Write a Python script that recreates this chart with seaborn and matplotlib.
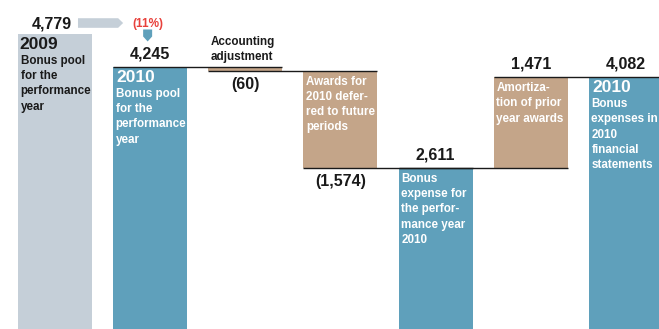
import matplotlib
matplotlib.use("Agg")
import matplotlib.pyplot as plt
from matplotlib.patches import Polygon
from matplotlib.transforms import IdentityTransform
import pandas as pd
import seaborn as sns

# Bonus pool bridge from the 2010 performance year to the 2010 financial statements
steps = ["2009 pool", "2010 pool", "Accounting adjustment", "Deferred awards",
         "Expense for 2010", "Amortization", "2010 expenses"]
amounts = [4779, 4245, -60, -1574, 2611, 1471, 4082]
kinds = ["prior", "total", "change", "change", "total", "change", "total"]
headings = ["2009", "2010", "", "", "", "", "2010"]
notes = [
    "Bonus pool\nfor the\nperformance\nyear",
    "Bonus pool\nfor the\nperformance\nyear",
    "Accounting\nadjustment",
    "Awards for\n2010 defer-\nred to future\nperiods",
    "Bonus\nexpense for\nthe perfor-\nmance year\n2010",
    "Amortiza-\ntion of prior\nyear awards",
    "Bonus\nexpenses in\n2010\nfinancial\nstatements",
]

GREY, BLUE, TAN = "#c5cfd8", "#5fa0bb", "#c4a589"
RED, INK = "#e8413c", "#1a1a1a"
palette = {"prior": GREY, "total": BLUE, "change": TAN}
BAR_W = 0.777
NOTE_SIZE = 8.4
NOTE_SPACING = 1.36

# Running totals: each change bar floats between the level before and after it
bottoms, heights, levels = [], [], []
running = 0
for amt, kind in zip(amounts, kinds):
    if kind == "change":
        new = running + amt
        bottoms.append(min(running, new))
        heights.append(abs(amt))
        running = new
    else:
        bottoms.append(0)
        heights.append(amt)
        if kind == "total":
            running = amt
    levels.append(running)

df = pd.DataFrame(dict(step=steps, amount=amounts, kind=kinds,
                       bottom=bottoms, height=heights, level=levels))

sns.set_theme(style="white")
plt.rcParams["font.family"] = ["Liberation Sans", "DejaVu Sans"]

fig = plt.figure(figsize=(6.59, 3.29), dpi=100)
ax = fig.add_axes([0, 0, 1, 1])

for kind, color in palette.items():
    sub = df[df["kind"] == kind]
    sns.barplot(data=sub, x="step", y="height", order=steps, color=color,
                saturation=1, width=BAR_W, linewidth=0, errorbar=None,
                bottom=sub["bottom"].to_numpy(), ax=ax)

ax.set_xlim(-0.578, 6.348)
ax.set_ylim(0, 5330)
ax.axis("off")

# Step connectors between consecutive bars
for i in range(1, len(steps) - 1):
    if kinds[i] == "prior":
        continue
    ax.hlines(levels[i], i - BAR_W / 2, i + 1 + BAR_W / 2,
              color=INK, lw=1.0, zorder=5)


def fmt(v):
    return f"({abs(v):,})" if v < 0 else f"{v:,}"


def px(x, y):
    return ax.transData.transform((x, y))


for i, row in df.iterrows():
    left = i - BAR_W / 2
    top = row.bottom + row.height
    bottom = row.bottom
    text_color = INK if row.kind == "prior" else "white"
    thin = row.height < 300

    # value label
    if row.kind == "prior":
        ax.annotate(fmt(row.amount), (i, top), xytext=(-3, 5.7),
                    textcoords="offset pixels", ha="center", va="baseline",
                    fontsize=11.5, fontweight="bold", color=INK)
    elif row.amount < 0:
        ax.annotate(fmt(row.amount), (i, bottom), xytext=(0, -6),
                    textcoords="offset pixels", ha="center", va="top",
                    fontsize=11.5, fontweight="bold", color=INK)
    else:
        ax.annotate(fmt(row.amount), (i, top), xytext=(0, 8.5),
                    textcoords="offset pixels", ha="center", va="baseline",
                    fontsize=11.5, fontweight="bold", color=INK)

    # description
    if thin:
        ax.annotate(notes[i], (left, top), xytext=(2, 4),
                    textcoords="offset pixels", ha="left", va="bottom",
                    fontsize=NOTE_SIZE, fontweight="bold", color=INK,
                    linespacing=NOTE_SPACING)
        continue
    note_dy = -5
    if headings[i]:
        ax.annotate(headings[i], (left, top),
                    xytext=(1.5 if row.kind == "prior" else 3, -3),
                    textcoords="offset pixels", ha="left", va="top",
                    fontsize=12.5, fontweight="bold", color=text_color, zorder=6)
        note_dy = -21
    ax.annotate(notes[i], (left, top), xytext=(2.5, note_dy),
                textcoords="offset pixels", ha="left", va="top",
                fontsize=NOTE_SIZE, fontweight="bold", color=text_color,
                linespacing=NOTE_SPACING, zorder=6)

# Year-on-year change between the two bonus pools
prev, cur = amounts[0], amounts[1]
change = (cur - prev) / prev
x0, y0 = px(0, prev)
x1, y1 = px(1, cur)
row_y = y0 + 11
arrow_l, arrow_r = x0 + 23, x1 - 27
half = 4.8
fig.add_artist(Polygon([(arrow_l, row_y - half), (arrow_r - 5, row_y - half),
                        (arrow_r, row_y), (arrow_r - 5, row_y + half),
                        (arrow_l, row_y + half)],
                       closed=True, facecolor=GREY, edgecolor="none",
                       transform=IdentityTransform()))
pct = f"({abs(change):.0%})" if change < 0 else f"{change:.0%}"
ax.annotate(pct, (1, cur), xytext=(-2.5, row_y - 4 - y1), textcoords="offset pixels",
            ha="center", va="baseline", fontsize=8.5, fontweight="bold", color=RED)

cx = x1 - 2.5
tip_y = y1 + 25.5
body_top = y1 + 37.5
fig.add_artist(Polygon([(cx - 4.5, body_top), (cx + 4.5, body_top),
                        (cx + 4.5, tip_y + 5), (cx, tip_y), (cx - 4.5, tip_y + 5)],
                       closed=True, facecolor=BLUE, edgecolor="none",
                       transform=IdentityTransform()))

fig.savefig("out.png", dpi=100)
